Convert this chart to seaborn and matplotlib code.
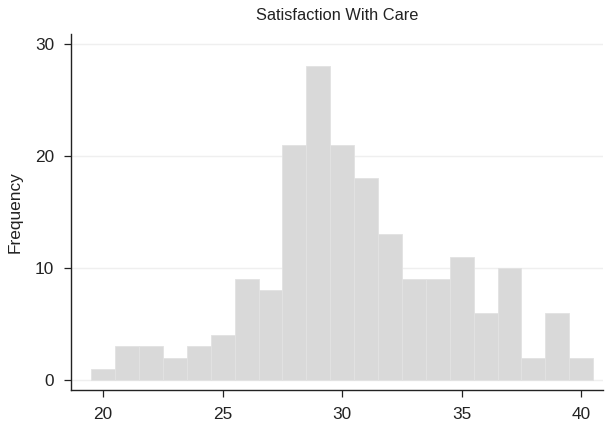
import pandas as pd
import seaborn as sns
import matplotlib.pyplot as plt

# score values (integer bins) and how many patients had each
scores = [20, 21, 22, 23, 24, 25, 26, 27, 28, 29, 30,
          31, 32, 33, 34, 35, 36, 37, 38, 39, 40]
counts = [1, 3, 3, 2, 3, 4, 9, 8, 21, 28, 21,
          18, 13, 9, 9, 11, 6, 10, 2, 6, 2]
x_ticks = [20, 25, 30, 35, 40]
y_ticks = [0, 10, 20, 30]

data = pd.DataFrame({'score': scores, 'count': counts})

sns.set_style('white')
plt.rcParams['font.family'] = ['Liberation Sans', 'DejaVu Sans']

fig = plt.figure(figsize=(6.14, 4.30), dpi=100)
ax = fig.add_axes([0.1151, 0.093, 0.867, 0.828])

sns.histplot(data=data, x='score', weights='count', discrete=True,
             color='#d9d9d9', alpha=1, edgecolor='#e2e2e2', linewidth=0.6,
             ax=ax)

ax.set_xlim(18.64, 40.91)
ax.set_ylim(-0.89, 30.9)
ax.set_xticks(x_ticks)
ax.set_yticks(y_ticks)

# faint horizontal grid like the stata scheme
ax.set_axisbelow(True)
ax.yaxis.grid(True, color='#efefef', linewidth=1.0)
ax.xaxis.grid(False)

for side in ['top', 'right']:
    ax.spines[side].set_visible(False)
for side in ['left', 'bottom']:
    ax.spines[side].set_color('#222222')
    ax.spines[side].set_linewidth(1.0)

ax.tick_params(axis='both', which='major', bottom=True, left=True,
               direction='out', length=5, width=0.9,
               color='#222222', labelsize=12.4, labelcolor='#222222', pad=7)

ax.set_xlabel('')
ax.set_ylabel('Frequency', fontsize=12.4, color='#222222', labelpad=9)
ax.set_title('Satisfaction With Care', fontsize=11.8, color='#222222', pad=10)

fig.savefig('out.png', dpi=100)
